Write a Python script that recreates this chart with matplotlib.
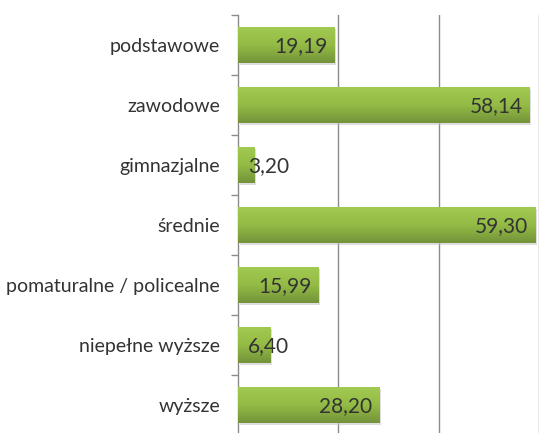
import numpy as np
import matplotlib.pyplot as plt
from matplotlib.colors import LinearSegmentedColormap
import matplotlib.transforms as mtransforms

# ---------------------- dane ----------------------
kategorie = ['podstawowe', 'zawodowe', 'gimnazjalne', 'średnie',
             'pomaturalne / policealne', 'niepełne wyższe', 'wyższe']
wartosci = [19.19, 58.14, 3.20, 59.30, 15.99, 6.40, 28.20]
etykiety = ['19,19', '58,14', '3,20', '59,30', '15,99', '6,40', '28,20']

plt.rcParams['font.family'] = ['Lato', 'DejaVu Sans']

W, H = 539, 433
fig = plt.figure(figsize=(W / 100, H / 100), dpi=100)
# oś od x=238 px do prawej krawędzi, od y=15 px do dołu (lekko za kadrem)
ax = fig.add_axes([238 / W, -2 / H, (W - 238) / W, (H - 15 + 2) / H])

y = np.arange(len(kategorie))
bar_h = 0.6
cmap = LinearSegmentedColormap.from_list('zielony', ['#a2ca52', '#93bb45', '#74933a'])
grad = np.linspace(0, 1, 64).reshape(-1, 1)

for i, v in enumerate(wartosci):
    # cień
    ax.barh(y[i], v, height=bar_h, color='#c8c8c8', alpha=0.6, zorder=2,
            transform=ax.transData + mtransforms.ScaledTranslation(1.5 / 100, -1.5 / 100, fig.dpi_scale_trans))
    b = ax.barh(y[i], v, height=bar_h, color='#8db543', zorder=3)[0]
    im = ax.imshow(grad, cmap=cmap, aspect='auto', zorder=4,
                   extent=[0, v, y[i] + bar_h / 2, y[i] - bar_h / 2])
    im.set_clip_path(b)
    if v < 10:
        ax.annotate(etykiety[i], (0, y[i]), xytext=(7, -1), textcoords='offset points',
                    ha='left', va='center', fontsize=15, color='#333333', zorder=5)
    else:
        ax.annotate(etykiety[i], (v, y[i]), xytext=(-5, -1), textcoords='offset points',
                    ha='right', va='center', fontsize=15, color='#333333', zorder=5)

ax.set_xlim(0, (W - 238) / 101.5 * 20)
ax.set_ylim(len(kategorie) - 0.5, -0.5)
ax.set_xticks([20, 40, 60])
ax.set_xticklabels([])
ax.tick_params(axis='x', length=0)
ax.grid(axis='x', color='#8c8c8c', linewidth=1, zorder=0)
ax.set_axisbelow(True)

ax.set_yticks(np.arange(len(kategorie) + 1) - 0.5, minor=False)
ax.set_yticklabels([])
ax.tick_params(axis='y', which='major', length=5, color='#8c8c8c', width=1)
ax.set_yticks(y, minor=True)
ax.set_yticklabels(kategorie, minor=True, fontsize=14, color='#333333')
ax.tick_params(axis='y', which='minor', length=0, pad=13)

for s in ['top', 'right', 'bottom']:
    ax.spines[s].set_visible(False)
ax.spines['left'].set_color('#8c8c8c')
ax.spines['left'].set_linewidth(1)

fig.savefig('out.png', dpi=100)
